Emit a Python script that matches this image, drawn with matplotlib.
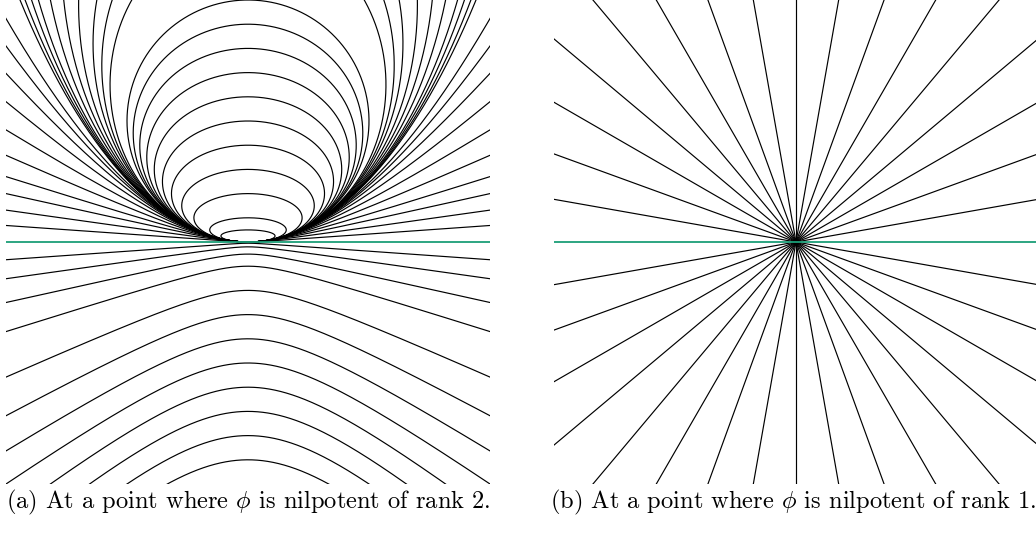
import numpy as np
import matplotlib
matplotlib.use("Agg")
import matplotlib.pyplot as plt

plt.rcParams['font.family'] = ['cmr10', 'DejaVu Serif']
plt.rcParams['mathtext.fontset'] = 'cm'

# ---- data (native coordinates, panel = [-1,1] x [-1,1]) ----
# left panel: orbits x^2 - y = K y^2
oval_heights = [0.05, 0.1, 0.2, 0.3, 0.4, 0.5, 0.6, 0.7, 0.8, 0.9, 1.0,
                1.3, 1.46, 1.64, 1.96, 2.38, 3.0, 4.0, 5.0, 6.6, 8.9]
upper_K = [200, 50, 20, 10, 5, 2.5, 1.25, 0.625, 0.29, 0.09]
lower_vertex = [0.005, 0.02, 0.05, 0.1, 0.2, 0.3, 0.4, 0.5, 0.6, 0.7, 0.8, 0.9]
# right panel: pencil of lines
ray_angles_deg = [0, 10, 20, 30, 40, 50, 60, 70, 80, 90,
                  100, 110, 120, 130, 140, 150, 160, 170]
captions = [r"(a) At a point where $\phi$ is nilpotent of rank 2.",
            r"(b) At a point where $\phi$ is nilpotent of rank 1."]

GREEN = '#1b9e77'
LW = 0.85

W, H = 1036, 533
fig = plt.figure(figsize=(W / 100, H / 100), dpi=100)

size = 484
axL = fig.add_axes([6 / W, (H - size) / H, size / W, size / H])
axR = fig.add_axes([554 / W, (H - size) / H, size / W, size / H])
for ax in (axL, axR):
    ax.set_xlim(-1, 1)
    ax.set_ylim(-1, 1)
    ax.set_aspect('equal')
    ax.axis('off')

# ovals
th = np.linspace(0, 2 * np.pi, 2000)
for h in oval_heights:
    x = np.sqrt(h) / 2 * np.sin(th)
    y = h * (1 - np.cos(th)) / 2
    axL.plot(x, y, color='black', lw=LW)

xs = np.linspace(-1.2, 1.2, 3000)
for K in upper_K:
    y = (-1 + np.sqrt(1 + 4 * K * xs ** 2)) / (2 * K)
    axL.plot(xs, y, color='black', lw=LW)
for c in lower_vertex:
    K = 1.0 / c
    y = -(1 + np.sqrt(1 + 4 * K * xs ** 2)) / (2 * K)
    axL.plot(xs, y, color='black', lw=LW)
axL.axhline(0, color=GREEN, lw=1.3, zorder=5)

# right: lines through the origin
for a in ray_angles_deg:
    t = np.radians(a)
    r = np.array([-2, 2])
    col = GREEN if a == 0 else 'black'
    axR.plot(r * np.cos(t), r * np.sin(t), color=col,
             lw=1.3 if a == 0 else LW, zorder=5 if a == 0 else 2)

fig.text(248 / W, (H - 502) / H, captions[0], ha='center', va='center', fontsize=17.6)
fig.text(793 / W, (H - 502) / H, captions[1], ha='center', va='center', fontsize=17.6)

fig.savefig('out.png', dpi=100)
